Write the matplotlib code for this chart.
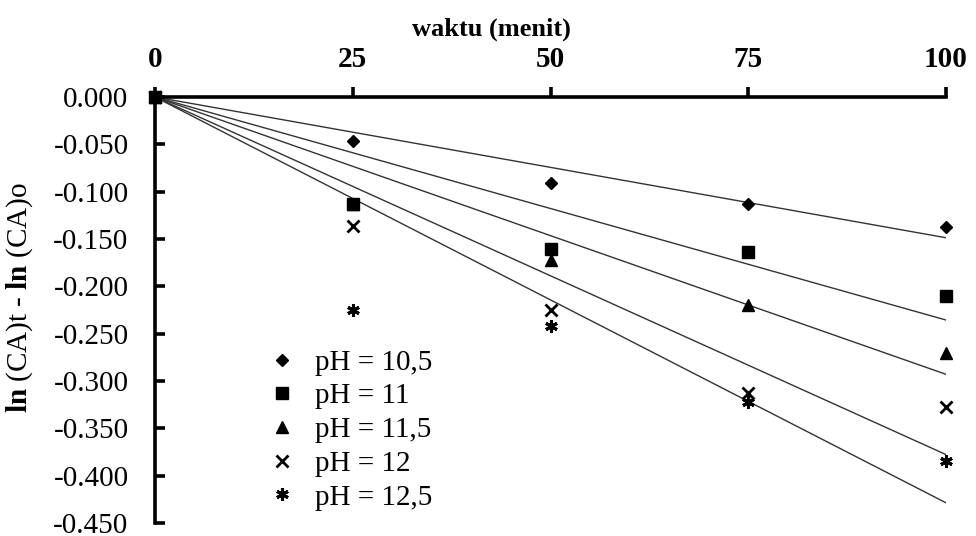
import numpy as np
import matplotlib
matplotlib.use("Agg")
import matplotlib.pyplot as plt
from matplotlib.lines import Line2D

plt.rcParams["font.family"] = ["Liberation Serif", "DejaVu Serif"]
plt.rcParams["mathtext.fontset"] = "custom"
plt.rcParams["mathtext.rm"] = "Liberation Serif"
plt.rcParams["mathtext.bf"] = "Liberation Serif:bold"

# waktu (menit)
time = [0, 25, 50, 75, 100]

# ln(CA)t - ln(CA)o for each pH
ph_105 = [0.0, -0.046, -0.091, -0.113, -0.137]
ph_11 = [0.0, -0.113, -0.161, -0.164, -0.210]
ph_115 = [0.0, -0.113, -0.172, -0.220, -0.270]
ph_12 = [0.0, -0.136, -0.225, -0.313, -0.327]
ph_125 = [0.0, -0.225, -0.242, -0.322, -0.385]

labels = ["pH = 10,5", "pH = 11", "pH = 11,5", "pH = 12", "pH = 12,5"]
series = [ph_105, ph_11, ph_115, ph_12, ph_125]

x_ticks = [0, 25, 50, 75, 100]
y_ticks = [0.0, -0.05, -0.10, -0.15, -0.20, -0.25, -0.30, -0.35, -0.40, -0.45]

marker_styles = [
    dict(marker="D", ms=6.5, mfc="black", mec="black"),
    dict(marker="s", ms=8, mfc="black", mec="black"),
    dict(marker="^", ms=8, mfc="black", mec="black"),
    dict(marker="x", ms=8, mec="black", mew=2.0),
    dict(marker=(6, 2, 0), ms=9, mec="black", mew=2.2),
]

fig = plt.figure(figsize=(9.76, 5.36), dpi=100)
ax = fig.add_axes([155 / 976, 1 - 523 / 536, 791 / 976, 426 / 536])

t = np.array(time, dtype=float)
# linear trend lines forced through the origin
for vals in series:
    v = np.array(vals)
    slope = np.sum(t * v) / np.sum(t * t)
    tt = np.array([0.0, 100.0])
    ax.plot(tt, slope * tt, color="#333333", lw=1.0, zorder=2)

# draw pH 11,5 first so the coinciding square sits on top of it
order = [2, 0, 1, 3, 4]
for i in order:
    ax.plot(time, series[i], ls="none", zorder=3, clip_on=False, **marker_styles[i])

ax.set_xlim(0, 100)
ax.set_ylim(-0.45, 0.0)
ax.xaxis.tick_top()
ax.set_xticks(x_ticks)
ax.set_xticklabels([str(v) for v in x_ticks], fontsize=21, fontweight="bold")
ax.set_yticks(y_ticks)
ax.set_yticklabels([f"{v:.3f}" for v in y_ticks], fontsize=21)

for s in ["right", "bottom"]:
    ax.spines[s].set_visible(False)
for s in ["left", "top"]:
    ax.spines[s].set_linewidth(2.6)

ax.tick_params(axis="x", direction="out", length=7, width=2.6, pad=10)
ax.tick_params(axis="y", direction="in", length=7, width=2.6, pad=19)

fig.text(491 / 976, 1 - 29 / 536, "waktu (menit)", ha="center", va="center",
         fontsize=19, fontweight="bold")
fig.text(20 / 976, 1 - 298 / 536, r"$\mathbf{ln}$ (CA)t - $\mathbf{ln}$ (CA)o",
         rotation=90, ha="center", va="center", fontsize=21)

leg_handles = [Line2D([], [], ls="none", **marker_styles[i]) for i in range(5)]
ax.legend(leg_handles, labels, loc="upper left", bbox_to_anchor=(0.128, 0.435),
          frameon=False, fontsize=21, handlelength=1.0, handletextpad=0.6,
          labelspacing=0.25, borderaxespad=0)

fig.savefig("out.png", dpi=100)
